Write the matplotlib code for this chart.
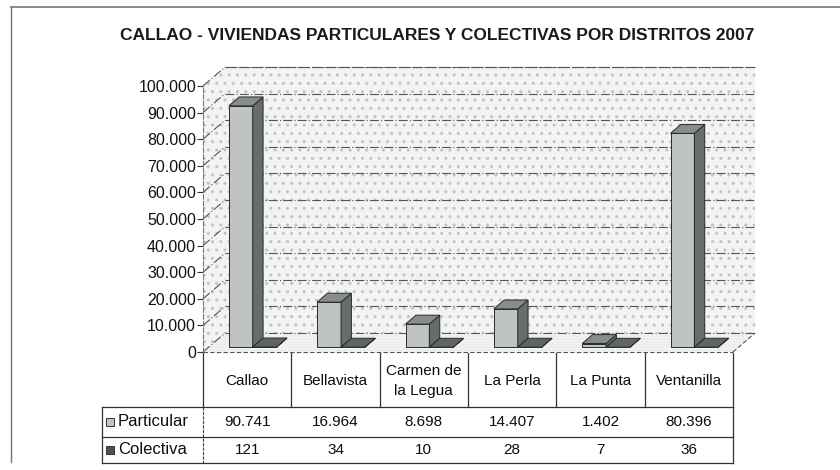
"""
Callao - viviendas particulares y colectivas por distritos 2007
3D-looking column chart with a data table underneath
"""
import matplotlib.pyplot as plt
from matplotlib.lines import Line2D
from matplotlib.patches import Polygon, Rectangle
from matplotlib.ticker import FuncFormatter

# pylint: disable=invalid-name

distritos = ['Callao', 'Bellavista', 'Carmen de\nla Legua', 'La Perla',
             'La Punta', 'Ventanilla']
particular = [90741, 16964, 8698, 14407, 1402, 80396]
colectiva = [121, 34, 10, 28, 7, 36]
series = ['Particular', 'Colectiva']
yticks = list(range(0, 100001, 10000))

W, H = 840, 470
plt.rcParams['font.family'] = ['Liberation Sans', 'DejaVu Sans']


def fbox(x0, y0, x1, y1):
    """pixel box (origin top-left) -> figure fraction rect"""
    return [x0 / W, 1 - y1 / H, (x1 - x0) / W, (y1 - y0) / H]


def thousands(v, pos=None):
    return '{:,}'.format(int(v)).replace(',', '.')


fig = plt.figure(figsize=(W / 100, H / 100), dpi=100)

# outer frame of the scanned chart
fig.add_artist(Line2D([11 / W, 1], [1 - 7 / H] * 2, color='#777777', lw=1.2))
fig.add_artist(Line2D([11 / W] * 2, [1 - 7 / H, 1 - 462 / H], color='#777777', lw=1.0))

fig.text(437 / W, 1 - 35 / H,
         'CALLAO - VIVIENDAS PARTICULARES Y COLECTIVAS POR DISTRITOS 2007',
         ha='center', va='center', fontsize=12.5, fontweight='bold', color='#1a1a1a')

# ---- plot area: x in category units, y in values
ax = fig.add_axes(fbox(203, 86, 733, 352))
ax.set_xlim(0, len(distritos))
ax.set_ylim(0, 100000)
DX, DY = 0.25, 7150          # depth offset of back wall in data units
ncat = len(distritos)
vmax = yticks[-1]


def P(x, y, d):
    return (x + DX * d, y + DY * d)


# walls and floor
wall_kw = dict(facecolor='#f3f3f3', edgecolor='#c2c2c2', hatch='..', lw=0,
               clip_on=False, zorder=1)
ax.add_patch(Polygon([P(0, 0, 1), P(ncat, 0, 1), P(ncat, vmax, 1), P(0, vmax, 1)], **wall_kw))
ax.add_patch(Polygon([P(0, 0, 0), P(0, 0, 1), P(0, vmax, 1), P(0, vmax, 0)], **wall_kw))
ax.add_patch(Polygon([P(0, 0, 0), P(ncat, 0, 0), P(ncat, 0, 1), P(0, 0, 1)],
                     facecolor='#f6f6f6', edgecolor='#e4e4e4', hatch='......', lw=0,
                     clip_on=False, zorder=1))

grid_kw = dict(color='#555555', lw=0.8, ls=(0, (8, 2, 1, 2)), clip_on=False, zorder=2)
for v in yticks:
    (xa, ya), (xb, yb) = P(0, v, 1), P(ncat, v, 1)
    ax.plot([xa, xb], [ya, yb], **grid_kw)
    (xa, ya), (xb, yb) = P(0, v, 0), P(0, v, 1)
    ax.plot([xa, xb], [ya, yb], **grid_kw)
# wall outlines
for pts in ([P(0, vmax, 1), P(ncat, vmax, 1)],
            [P(ncat, 0, 0), P(ncat, 0, 1)],
            [P(0, 0, 0), P(ncat, 0, 0)]):
    ax.plot([p[0] for p in pts], [p[1] for p in pts], color='#555555', lw=0.8,
            ls=(0, (4, 2)), clip_on=False, zorder=2)

# bars
bw = 0.27
d0, d1 = 0.25, 0.72
styles = [('#bfc3c1', '#878d8b', '#666d6b'), ('#4c5250', '#5f6563', '#363a39')]
for i in range(ncat):
    for k, vals in enumerate([particular, colectiva]):
        v = vals[i]
        x0 = i + 0.5 - bw + k * bw
        x1 = x0 + bw
        front, top, side = styles[k]
        kw = dict(edgecolor='#2a2a2a', lw=0.7, clip_on=False, zorder=3 + k)
        ax.add_patch(Polygon([P(x0, 0, d0), P(x1, 0, d0), P(x1, v, d0), P(x0, v, d0)],
                             facecolor=front, **kw))
        ax.add_patch(Polygon([P(x1, 0, d0), P(x1, 0, d1), P(x1, v, d1), P(x1, v, d0)],
                             facecolor=side, **kw))
        ax.add_patch(Polygon([P(x0, v, d0), P(x1, v, d0), P(x1, v, d1), P(x0, v, d1)],
                             facecolor=top, **kw))

for s in ['top', 'right', 'bottom']:
    ax.spines[s].set_visible(False)
ax.spines['left'].set_color('#777777')
ax.spines['left'].set_linestyle((0, (4, 2)))
ax.spines['left'].set_linewidth(0.8)
ax.spines['left'].set_zorder(2)
ax.patch.set_visible(False)
ax.set_xticks([])
ax.set_yticks(yticks)
ax.yaxis.set_major_formatter(FuncFormatter(thousands))
ax.tick_params(axis='y', length=4, width=0.8, color='#333333', pad=1,
               labelsize=11.5, labelcolor='#111111')

# ---- data table
tax = fig.add_axes(fbox(102, 353, 733, 463))
left = -101 / 88.33
tax.set_xlim(left, ncat)
tax.set_ylim(110, 0)
tax.axis('off')
rows = [0, 54, 84, 110]
lkw = dict(color='#333333', lw=0.9, clip_on=False)
for i in range(ncat + 1):
    tax.plot([i, i], [rows[0], rows[1]], **lkw)
tax.plot([0, 0], [rows[1], rows[3]], color='#444444', lw=0.8, ls=(0, (3, 1)), clip_on=False)
tax.plot([ncat, ncat], [rows[1], rows[3]], **lkw)
tax.plot([left, left], [rows[1], rows[3]], **lkw)
for r in rows[1:]:
    tax.plot([left, ncat], [r, r], **lkw)

tkw = dict(ha='center', va='center', fontsize=11, color='#0d0d0d')
for i, name in enumerate(distritos):
    tax.text(i + 0.5, (rows[0] + rows[1]) / 2 + 1, name, linespacing=1.55, **tkw)
    tax.text(i + 0.5, (rows[1] + rows[2]) / 2, thousands(particular[i]), **tkw)
    tax.text(i + 0.5, (rows[2] + rows[3]) / 2, thousands(colectiva[i]), **tkw)

key_colors = [styles[0][0], styles[1][0]]
for k, name in enumerate(series):
    yc = (rows[k + 1] + rows[k + 2]) / 2
    tax.add_patch(Rectangle((left + 4 / 88.33, yc - 4), 8 / 88.33, 8,
                            facecolor=key_colors[k], edgecolor='#333333', lw=0.7,
                            clip_on=False))
    tax.text(left + 16 / 88.33, yc, name, ha='left', va='center', fontsize=12,
             color='#0d0d0d')

fig.savefig('out.png', dpi=100)
